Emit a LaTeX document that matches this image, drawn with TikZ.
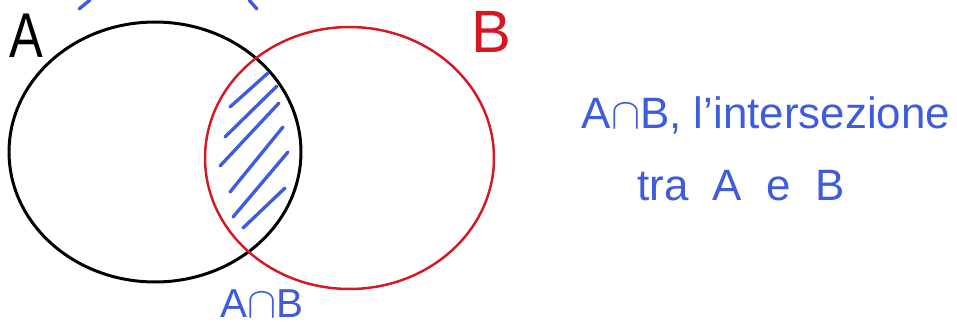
\documentclass[tikz,border=0pt]{standalone}
\usepackage{fontspec}
\setmainfont{Liberation Sans}
\usetikzlibrary{positioning}
\definecolor{penblue}{RGB}{62,92,220}
\definecolor{penred}{RGB}{212,24,36}
\tikzset{
  setA/.style  = {draw=black, line width=1.7pt},
  setB/.style  = {draw=penred, line width=1.4pt},
  hatch/.style = {draw=penblue, line width=1.9pt, line cap=round},
  lbl/.style   = {inner sep=0pt, font=\fontsize{36}{38}\selectfont},
  note/.style  = {inner sep=0pt, text=penblue, font=\fontsize{25}{28}\selectfont}
}

\begin{document}
\begin{tikzpicture}[x=0.02cm, y=-0.02cm]
\useasboundingbox (0,0) rectangle (957,332);

%% the two sets
\coordinate (cA) at (155,152);
\coordinate (cB) at (349.5,158);
\draw[setA] (cA) ellipse [x radius=2.92cm, y radius=2.60cm];
\draw[setB] (cB) ellipse [x radius=2.89cm, y radius=2.62cm];

%% hatching of the intersection
\foreach \x/\y/\u/\v in {230/107/268/73, 225/137/277/86, 220/166/279/103,
                         230/192/283/127, 233/217/288/152, 243/228/285/188}
  \draw[hatch] (\x,\y) -- (\u,\v);

%% strokes cut at the top edge
\draw[hatch] (90,0) -- (79,9);
\draw[hatch] (249,0) -- (257,9);

%% set names
\node[lbl, xscale=0.8] (nA) at (26,36) {A};
\node[lbl, text=penred, font=\fontsize{34}{36}\selectfont] (nB) at (491,32) {B};
\node[note, font=\fontsize{23}{26}\selectfont] (nAB) at (262,304) {A$\cap$B};

%% note on the right
\node[note] (n1) at (766,115) {A$\cap$B, l'intersezione};
\node[note, below=0.72cm of n1, xshift=-0.5cm] (n2) {tra \ A \ e \ B};

\end{tikzpicture}
\end{document}
